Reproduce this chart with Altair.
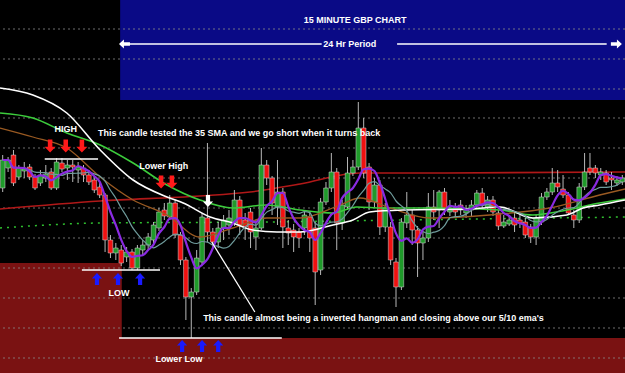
import altair as alt
import pandas as pd

# ---------------- data (levels read top-down from the picture: smaller = higher price) -------------
opens = [188,168,155,177,171,167,177,183,178,172,188,163,168,165,170,168,175,180,187,195,
         240,253,250,257,252,268,250,245,240,228,210,217,203,235,260,297,292,262,218,232,
         242,228,225,223,200,220,212,237,228,165,178,207,192,228,230,232,228,217,228,270,
         202,188,172,223,207,173,167,128,167,202,185,227,227,262,287,223,215,230,243,238,
         207,210,192,212,208,205,213,210,205,193,207,200,213,226,224,218,220,222,227,237,
         222,197,192,183,189,195,215,220,187,168,168,175,173,178,183,182]
highs = [155,157,150,165,162,164,174,170,165,168,158,158,160,160,162,165,170,177,183,193,
         235,243,245,247,249,245,240,233,222,208,203,195,200,232,257,288,250,213,143,228,
         222,215,210,190,196,213,208,220,148,160,176,160,188,220,224,228,210,212,222,198,
         182,153,168,200,157,160,102,118,163,178,180,203,222,258,218,192,210,226,232,193,
         190,190,188,200,203,200,205,200,190,188,196,196,210,215,215,212,215,218,224,215,
         193,188,168,170,175,192,210,183,153,153,165,168,170,172,176,175]
lows = [192,172,186,180,178,180,190,186,182,190,190,172,180,182,183,182,185,193,198,252,
        258,260,266,262,270,270,255,250,243,231,220,220,238,265,320,338,295,265,242,247,
        248,240,235,226,235,240,248,250,230,185,215,225,248,245,252,248,235,252,305,275,
        205,192,250,230,210,176,170,178,210,208,235,232,265,307,290,228,245,277,260,242,
        220,228,215,216,218,215,218,216,208,208,212,216,230,228,226,232,228,238,243,245,
        225,200,195,192,198,215,228,223,190,175,178,180,185,190,186,185]
closes = [160,160,183,168,169,177,188,175,174,188,162,169,165,167,167,175,182,190,195,240,
          253,248,263,252,268,248,245,237,225,212,216,203,235,260,297,292,258,217,232,242,
          228,220,218,200,225,227,232,228,165,178,203,192,227,233,237,238,215,238,272,202,
          188,172,223,205,173,167,128,173,202,185,227,208,260,287,222,215,230,243,238,207,
          212,192,210,208,212,210,209,205,193,205,200,212,226,222,220,225,223,235,237,218,
          197,192,183,187,195,213,220,187,172,172,173,172,182,180,180,178]

# slow moving averages (candle position, level)
white_x = [-0.5, 5.6, 11.9, 18.1, 24.2, 30.5, 33.5, 38.5, 42.7, 46.4, 50.9, 55.2, 61.3, 65.0, 68.1, 74.6, 86.7, 92.3, 98.4, 104.7, 107.7, 110.8, 115.5]
white_y = [88, 95, 113, 150, 180, 197, 203, 217, 223, 230, 232, 232, 225, 220, 212, 210, 209, 207, 218, 215, 208, 205, 200]
green_x = [-0.5, 5.6, 11.9, 18.1, 24.2, 30.5, 36.6, 42.7, 49.0, 55.2, 61.3, 65.7, 70.6, 80.0, 92.3, 98.4, 104.7, 110.8, 115.5]
green_y = [113, 118, 133, 145, 163, 185, 200, 208, 205, 210, 213, 207, 208, 208, 210, 215, 210, 203, 199]
brown_x = [-0.5, 5.6, 11.9, 18.1, 24.2, 30.5, 36.6, 42.7, 49.0, 55.2, 62.6, 66.3, 71.9, 79.3, 92.3, 101.5, 110.8, 115.5]
brown_y = [128, 137, 148, 177, 200, 215, 237, 228, 218, 218, 205, 198, 208, 218, 214, 208, 195, 189]
red_x = [-0.5, 18.1, 36.6, 45.9, 55.2, 66.3, 77.4, 115.5]
red_y = [209, 201, 196, 192, 184, 173, 173, 172]
dot_x = [-0.5, 18.1, 49.0, 74.6, 115.5]
dot_y = [228, 223, 222, 220, 217]

grid_levels = [29, 59, 89, 118, 148, 178, 208, 238, 268, 298, 328, 358]

# annotation texts
labels = ["15 MINUTE GBP CHART", "24 Hr Period", "HIGH", "Lower High", "LOW", "Lower Low"]
labels_x = [65.4, 64.4, 11.7, 29.9, 21.6, 32.7]
labels_y = [20, 44, 129, 166, 293, 359]
notes = ["This candle tested the 35 SMA and we go short when it turns back",
         "This candle almost being a inverted hangman and closing above our 5/10 ema's"]
notes_x = [17.7, 37.2]
notes_y = [133, 318]

# annotation lines (x, x2, y, y2)
seg_x = [7.8, 14.7, 21.6, 23.2, 73.2, 38.8]
seg_x2 = [17.7, 29.2, 51.8, 59.2, 112.1, 46.8]
seg_y = [159, 270, 338, 44, 44, 242]
seg_y2 = [159, 270, 338, 44, 44, 312]

# arrows
red_down_x = [8.8, 11.7, 14.7, 29.4, 31.4]
red_down_y = [146, 146, 146, 182, 182]
blue_up_x = [17.5, 21.4, 25.5, 33.3, 37.0, 40.0]
blue_up_y = [279, 279, 279, 346, 346, 346]
white_down_x = [38.1]
white_down_y = [201]

# background panels
blue_panel = {"x": [21.8], "x2": [115.5], "y": [0], "y2": [100]}
red_panels = {"x": [-0.5, -0.5], "x2": [22.1, 115.5], "y": [263, 338], "y2": [373, 373]}

# ---------------- chart ----------------
N = len(opens)
XD = [-0.5, N - 0.5]
YD = [0, 373]


def X(f):
    return alt.X(f"{f}:Q", scale=alt.Scale(domain=XD, nice=False, zero=False), axis=None)


def Y(f):
    return alt.Y(f"{f}:Q", scale=alt.Scale(domain=YD, nice=False, zero=False, reverse=True), axis=None)


candles = pd.DataFrame({"i": list(range(N)), "o": opens, "h": highs, "l": lows, "c": closes})


def panel(d, color):
    return alt.Chart(pd.DataFrame(d)).mark_rect(color=color).encode(
        x=X("x"), x2="x2", y=Y("y"), y2="y2"
    )


bg_blue = panel(blue_panel, "#0a0a86")
bg_red = panel(red_panels, "#7a1212")

grid = alt.Chart(pd.DataFrame({"g": grid_levels})).mark_rule(
    color="#8a8a8a", strokeDash=[2, 3], strokeWidth=1, opacity=0.8
).encode(y=Y("g"))


def ma_line(xs, ys, color, width, dash=None):
    kw = dict(color=color, strokeWidth=width, interpolate="monotone", clip=True)
    if dash:
        kw["strokeDash"] = dash
    return alt.Chart(pd.DataFrame({"x": xs, "y": ys})).mark_line(**kw).encode(x=X("x"), y=Y("y"))


red_ma = ma_line(red_x, red_y, "#b01818", 1.6)
dot_ma = ma_line(dot_x, dot_y, "#2fbf2f", 1.5, [2, 5])
green_ma = ma_line(green_x, green_y, "#3ccc3c", 1.6)
brown_ma = ma_line(brown_x, brown_y, "#9a5a22", 1.3)
white_ma = ma_line(white_x, white_y, "#ffffff", 1.6)

base = alt.Chart(candles)
wicks = base.mark_rule(color="#b8b8b8", strokeWidth=1).encode(x=X("i"), y=Y("h"), y2="l")
bodies = base.transform_calculate(x0="datum.i - 0.43", x1="datum.i + 0.43").mark_rect(
    stroke="#d8d8d8", strokeWidth=0.5
).encode(
    x=X("x0"), x2="x1", y=Y("o"), y2="c",
    color=alt.condition("datum.c <= datum.o", alt.value("#1f9a2a"), alt.value("#f01010")),
)

mas = base.transform_window(
    ma5="mean(c)", frame=[-4, 0], sort=[alt.SortField("i")]
).transform_window(
    ma10="mean(c)", frame=[-9, 0], sort=[alt.SortField("i")]
)
teal = mas.mark_line(color="#6f9c9c", strokeWidth=1.2, interpolate="monotone").encode(x=X("i"), y=Y("ma10"))
purple = mas.mark_line(color="#8a2be2", strokeWidth=2.2, interpolate="monotone").encode(x=X("i"), y=Y("ma5"))

segs = alt.Chart(pd.DataFrame({"x": seg_x, "x2": seg_x2, "y": seg_y, "y2": seg_y2})).mark_rule(
    color="white", strokeWidth=1.3
).encode(x=X("x"), x2="x2", y=Y("y"), y2="y2")

DOWN = "M-0.35,-1L0.35,-1L0.35,0.1L0.85,0.1L0,1L-0.85,0.1L-0.35,0.1Z"
UP = "M-0.35,1L0.35,1L0.35,-0.1L0.85,-0.1L0,-1L-0.85,-0.1L-0.35,-0.1Z"
LEFT = "M1,-0.3L1,0.3L-0.1,0.3L-0.1,0.8L-1,0L-0.1,-0.8L-0.1,-0.3Z"
RIGHT = "M-1,-0.3L-1,0.3L0.1,0.3L0.1,0.8L1,0L0.1,-0.8L0.1,-0.3Z"


def arrows(xs, ys, path, color, size):
    return alt.Chart(pd.DataFrame({"x": xs, "y": ys})).mark_point(
        shape=path, filled=True, color=color, size=size, opacity=1, strokeWidth=0
    ).encode(x=X("x"), y=Y("y"))


a_red = arrows(red_down_x, red_down_y, DOWN, "#ff1a1a", 169)
a_blue = arrows(blue_up_x, blue_up_y, UP, "#1a1aff", 144)
a_white = arrows(white_down_x, white_down_y, DOWN, "#ffffff", 144)
a_left = arrows([22.6], [44], LEFT, "#ffffff", 121)
a_right = arrows([113.9], [44], RIGHT, "#ffffff", 121)

lab = alt.Chart(pd.DataFrame({"x": labels_x, "y": labels_y, "t": labels})).mark_text(
    color="white", font="Liberation Sans", fontWeight="bold", fontSize=9, align="center", baseline="middle"
).encode(x=X("x"), y=Y("y"), text="t:N")
note = alt.Chart(pd.DataFrame({"x": notes_x, "y": notes_y, "t": notes})).mark_text(
    color="white", font="Liberation Sans", fontWeight="bold", fontSize=9, align="left", baseline="middle"
).encode(x=X("x"), y=Y("y"), text="t:N")

chart = alt.layer(
    bg_blue, bg_red, grid, red_ma, dot_ma, wicks, bodies, green_ma, brown_ma, white_ma, teal, purple,
    segs, a_red, a_blue, a_white, a_left, a_right, lab, note,
).properties(
    width=625, height=373, background="black", padding=0,
    autosize=alt.AutoSizeParams(type="none"),
).configure_view(stroke=None)

chart.save("out.html", embed_options={"renderer": "svg", "actions": False})
